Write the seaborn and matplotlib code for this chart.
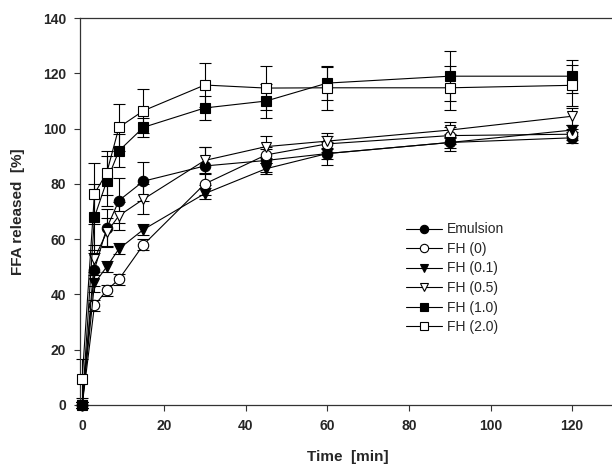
import matplotlib
matplotlib.use("Agg")
import matplotlib.pyplot as plt
import pandas as pd
import seaborn as sns

sns.set_style("ticks")
plt.rcParams['font.family'] = ['Liberation Sans', 'DejaVu Sans']

# Sampling times (min)
time = [0, 3, 6, 9, 15, 30, 45, 60, 90, 120]

# FFA released (%) and SD per formulation
emulsion = [0, 49, 64, 74, 81, 86.5, 88.5, 91, 95, 96.7]
emulsion_sd = [1, 6, 7, 8, 7, 7, 4, 4, 3, 2]
fh_0 = [0, 36, 41.5, 45.5, 58, 80, 90.5, 94.5, 97.5, 98]
fh_0_sd = [1, 2, 2, 2, 2, 4, 3, 3, 3, 2]
fh_01 = [0, 44, 50, 56.5, 63.5, 76.5, 85.5, 91, 95, 99.5]
fh_01_sd = [1, 3, 2, 2, 2, 2, 2, 2, 2, 2]
fh_05 = [0, 53, 62.5, 68.5, 74.5, 88.5, 93.5, 95.5, 99.5, 104.5]
fh_05_sd = [1, 5, 5, 5, 5.5, 5, 4, 3, 3, 3]
fh_10 = [0, 68, 81, 92, 100.5, 107.5, 110, 116.5, 119, 119]
fh_10_sd = [1, 12, 9, 6, 3.5, 4.5, 6.3, 6, 9, 6]
fh_20 = [9.5, 76.5, 84, 100.5, 106.5, 115.8, 114.7, 114.8, 114.8, 115.7]
fh_20_sd = [7, 11, 8, 8.5, 8, 8, 8, 8, 8, 7.5]

labels = ["Emulsion", "FH (0)", "FH (0.1)", "FH (0.5)", "FH (1.0)", "FH (2.0)"]
values = [emulsion, fh_0, fh_01, fh_05, fh_10, fh_20]
errors = [emulsion_sd, fh_0_sd, fh_01_sd, fh_05_sd, fh_10_sd, fh_20_sd]
markers = ["o", "o", "v", "v", "s", "s"]
filled = [True, False, True, False, True, False]
sizes = [7.5, 7.5, 7.5, 7.5, 6.5, 6.5]

fig = plt.figure(figsize=(6.12, 4.66), dpi=100)
ax = fig.add_axes([0.131, 0.131, 0.874, 0.830])

for lab, y, err, m, f, ms in zip(labels, values, errors, markers, filled, sizes):
    df = pd.DataFrame({"time": time, "ffa": y})
    ax.errorbar(time, y, yerr=err, fmt="none", ecolor="black", elinewidth=0.8,
                capsize=4.5, capthick=0.8, zorder=2, clip_on=False)
    sns.lineplot(data=df, x="time", y="ffa", ax=ax, color="black", linewidth=0.8,
                 marker=m, markersize=ms, markerfacecolor="black" if f else "white",
                 markeredgecolor="black", markeredgewidth=0.8, label=lab,
                 zorder=3, clip_on=False)

ax.set_xlim(-0.5, 130.5)
ax.set_ylim(0, 140)
ax.set_xticks(range(0, 121, 20))
ax.set_yticks(range(0, 141, 20))
ax.spines["right"].set_visible(False)
for s in ["left", "bottom", "top"]:
    ax.spines[s].set_color("#333333")
    ax.spines[s].set_linewidth(0.9)
ax.tick_params(direction="out", length=4, width=0.8, color="#333333",
               labelsize=10, pad=6)
for t in ax.get_xticklabels() + ax.get_yticklabels():
    t.set_fontweight("bold")

ax.set_xlabel("Time  [min]", fontsize=11, fontweight="bold", labelpad=12)
ax.set_ylabel("FFA released  [%]", fontsize=11, fontweight="bold", labelpad=13)

ax.legend(loc="upper left", bbox_to_anchor=(0.596, 0.49), frameon=False,
          fontsize=10, handlelength=2.6, handletextpad=0.35, labelspacing=0.4,
          markerscale=0.8, borderpad=0)

fig.savefig("out.png", dpi=100)
